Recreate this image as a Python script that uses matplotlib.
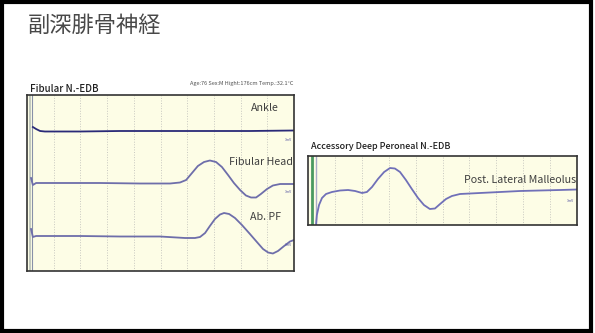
import matplotlib.pyplot as plt
from matplotlib.patches import Rectangle

plt.rcParams['font.family'] = ['Noto Sans CJK JP', 'DejaVu Sans']

# traces: time (ms) and amplitude (mV) relative to baseline
ankle_t = [0.22, 0.34, 0.49, 0.67, 1.99, 3.48, 4.98, 6.48, 8.35, 10.0]
ankle_v = [0.2, 0.1, 0.0, -0.025, -0.025, 0.0, 0.0, 0.0, 0.0, 0.025]

head_t = [0.15, 0.22, 0.34, 1.24, 2.73, 4.23, 5.36, 5.73, 5.96, 6.18, 6.40,
          6.63, 6.85, 7.08, 7.30, 7.53, 7.75, 7.98, 8.20, 8.39, 8.58, 8.76,
          8.99, 9.21, 9.48, 9.74, 10.0]
head_v = [0.25, -0.1, 0.0, 0.0, 0.0, -0.025, -0.025, 0.025, 0.15, 0.5, 0.85,
          1.05, 1.125, 1.05, 0.8, 0.4, 0.0, -0.35, -0.625, -0.725, -0.725,
          -0.55, -0.3, -0.125, -0.05, -0.05, -0.05]

pf_t = [0.15, 0.22, 0.34, 1.99, 3.48, 4.98, 5.92, 6.29, 6.48, 6.67, 6.85,
        7.04, 7.23, 7.38, 7.57, 7.79, 8.05, 8.35, 8.61, 8.84, 9.03, 9.21,
        9.40, 9.63, 9.85, 10.0]
pf_v = [0.35, -0.05, 0.0, 0.0, -0.025, -0.025, -0.1, -0.1, -0.05, 0.15, 0.5,
        0.85, 1.075, 1.15, 1.1, 0.9, 0.55, 0.1, -0.3, -0.65, -0.825, -0.875,
        -0.75, -0.5, -0.275, -0.2]

adp_t = [0.30, 0.33, 0.41, 0.52, 0.67, 0.89, 1.19, 1.49, 1.75, 2.01, 2.19,
         2.38, 2.60, 2.83, 3.05, 3.23, 3.42, 3.64, 3.86, 4.09, 4.31, 4.53,
         4.72, 4.91, 5.13, 5.35, 5.65, 6.39, 7.14, 7.88, 8.62, 9.37, 10.0]
adp_v = [-1.6, -1.15, -0.65, -0.3, -0.1, 0.0, 0.075, 0.1, 0.05, -0.05, 0.0,
         0.25, 0.65, 1.0, 1.2, 1.175, 1.0, 0.6, 0.15, -0.3, -0.65, -0.85,
         -0.825, -0.6, -0.35, -0.2, -0.1, -0.05, 0.0, 0.05, 0.075, 0.1, 0.125]

W, H = 595, 333
fig = plt.figure(figsize=(W / 100, H / 100), dpi=100)
fig.patch.set_facecolor('white')
fig.patches.append(Rectangle((0.004, 0.006), 0.99, 0.988, transform=fig.transFigure,
                             fill=False, edgecolor='black', lw=3))


def panel(px, py, pw, ph, ylim):
    ax = fig.add_axes([px / W, 1 - (py + ph) / H, pw / W, ph / H])
    ax.set_facecolor('#fdfde6')
    ax.set_xlim(0, 10)
    ax.set_ylim(*ylim)
    ax.set_xticks(range(1, 10))
    ax.set_yticks([])
    ax.grid(axis='x', color='#c8c8c0', ls=':', lw=0.7)
    ax.tick_params(length=0, labelbottom=False, labelleft=False)
    for s in ax.spines.values():
        s.set_color('#333333')
        s.set_linewidth(1.2)
    return ax


# left panel: three stimulation sites
ax1 = panel(27, 95, 267, 176, (0, 8.8))
ax1.axvline(0.1, color='#b8c0b8', lw=1.2)
ax1.axvline(0.2, color='#8890a8', lw=0.8)
offsets = [7.0, 4.4, 1.75]
ax1.plot(ankle_t, [v + offsets[0] for v in ankle_v], color='#2a2a78', lw=1.3)
ax1.plot(head_t, [v + offsets[1] for v in head_v], color='#6e6eaa', lw=1.3)
ax1.plot(pf_t, [v + offsets[2] for v in pf_v], color='#6e6eaa', lw=1.3)
for y in offsets:
    ax1.text(9.9, y - 0.45, '1mV', fontsize=2.5, color='#5050a0', ha='right', va='center')
ax1.text(8.4, 8.15, 'Ankle', fontsize=7.7, color='#404040', va='center')
ax1.text(9.95, 5.45, 'Fibular Head', fontsize=7.7, color='#404040', ha='right', va='center')
ax1.text(8.35, 2.7, 'Ab. PF', fontsize=7.7, color='#404040', va='center')

# right panel: accessory deep peroneal nerve
ax2 = panel(308, 156, 269, 69, (-1.65, 1.8))
ax2.axvline(0.15, color='#4a9a60', lw=2)
ax2.axvline(0.3, color='#a8acc8', lw=1)
ax2.plot(adp_t, adp_v, color='#7070b8', lw=1.3)
ax2.text(9.9, -0.45, '1mV', fontsize=2.5, color='#5050a0', ha='right', va='center')
ax2.text(9.95, 0.6, 'Post. Lateral Malleolus', fontsize=7.7, color='#404040',
         ha='right', va='center')

fig.text(28 / W, 1 - 25 / H, '副深腓骨神経', fontsize=16, color='#484848', va='center')
fig.text(30 / W, 1 - 89 / H, 'Fibular N.-EDB', fontsize=7, color='#202020',
         va='center', weight='medium')
fig.text(293 / W, 1 - 83 / H, 'Age:76 Sex:M Hight:176cm Temp.:32.1°C', fontsize=4,
         color='#505050', ha='right', va='center')
fig.text(311 / W, 1 - 147 / H, 'Accessory Deep Peroneal N.-EDB', fontsize=6.5,
         color='#202020', va='center', weight='medium')

fig.savefig('out.png', dpi=100)
